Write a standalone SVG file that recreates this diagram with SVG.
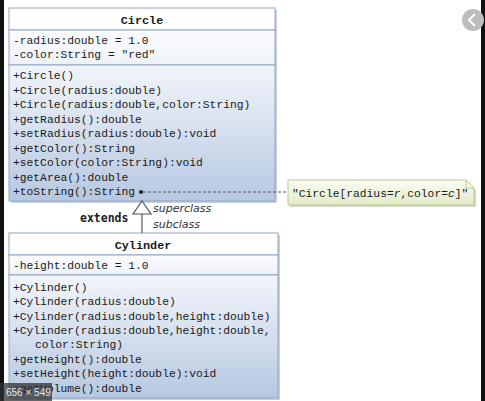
<svg xmlns="http://www.w3.org/2000/svg" width="485" height="401" viewBox="0 0 485 401">
<style>
.mono{font-family:"Liberation Mono","DejaVu Sans Mono",monospace;font-size:11.3px;fill:#1a1a1a}
.title{font-weight:bold;text-anchor:middle;font-size:11.8px}
.box{stroke:#8fa4c4;stroke-width:1}
.lbl{font-family:"DejaVu Sans","Liberation Sans",sans-serif;font-size:11px;fill:#333}
</style>
<defs>
<linearGradient id="meth" x1="0" y1="0" x2="0" y2="1">
<stop offset="0" stop-color="#f2f5fa"/>
<stop offset="1" stop-color="#b6c8e1"/>
</linearGradient>
<linearGradient id="attr" x1="0" y1="0" x2="0" y2="1">
<stop offset="0" stop-color="#fbfcfe"/>
<stop offset="1" stop-color="#eef2f8"/>
</linearGradient>
<linearGradient id="note" x1="0" y1="0" x2="0" y2="1">
<stop offset="0" stop-color="#fbfdf3"/>
<stop offset="1" stop-color="#e2ebc8"/>
</linearGradient>
</defs>
<rect width="485" height="401" fill="#ffffff"/>
<rect x="0" y="0" width="4" height="401" fill="#111"/>
<rect x="481" y="0" width="4" height="401" fill="#111"/>
<circle cx="473" cy="20" r="11" fill="#bdbdbd"/>
<path d="M475,14 L469,20 L475,26" fill="none" stroke="#fff" stroke-width="2"/>

<g id="circle">
<rect x="11" y="10" width="266" height="193" fill="#c9cfd8"/>
<rect x="9" y="8" width="266" height="22" fill="#ffffff" class="box"/>
<rect x="9" y="30" width="266" height="35" fill="url(#attr)" class="box"/>
<rect x="9" y="65" width="266" height="136" fill="url(#meth)" class="box"/>
<text x="142" y="24" class="mono title">Circle</text>
<text x="13" y="44" class="mono">-radius:double = 1.0</text>
<text x="13" y="58" class="mono">-color:String = "red"</text>
<text x="13" y="79" class="mono">+Circle()</text>
<text x="13" y="93.5" class="mono">+Circle(radius:double)</text>
<text x="13" y="108" class="mono">+Circle(radius:double,color:String)</text>
<text x="13" y="122.5" class="mono">+getRadius():double</text>
<text x="13" y="137" class="mono">+setRadius(radius:double):void</text>
<text x="13" y="151.5" class="mono">+getColor():String</text>
<text x="13" y="166" class="mono">+setColor(color:String):void</text>
<text x="13" y="180.5" class="mono">+getArea():double</text>
<text x="13" y="195" class="mono">+toString():String</text>
</g>

<g id="note1">
<path d="M290,182 L468,182 L476,190 L476,207 L290,207 Z" fill="#d5d9cc"/>
<path d="M288,180 L466,180 L474,188 L474,205 L288,205 Z" fill="url(#note)" stroke="#b8c98f" stroke-width="1"/>
<path d="M466,180 L466,188 L474,188" fill="none" stroke="#b8c98f" stroke-width="1"/>
<text x="292" y="197" class="mono">"Circle[radius=<tspan font-style="italic">r</tspan>,color=<tspan font-style="italic">c</tspan>]"</text>
</g>

<g id="cylinder">
<rect x="11" y="235" width="269" height="165" fill="#c9cfd8"/>
<rect x="9" y="233" width="269" height="22" fill="#ffffff" class="box"/>
<rect x="9" y="255" width="269" height="20" fill="url(#attr)" class="box"/>
<rect x="9" y="275" width="269" height="123" fill="url(#meth)" class="box"/>
<text x="143" y="249" class="mono title">Cylinder</text>
<text x="13" y="269" class="mono">-height:double = 1.0</text>
<text x="13" y="291" class="mono">+Cylinder()</text>
<text x="13" y="305" class="mono">+Cylinder(radius:double)</text>
<text x="13" y="319.5" class="mono">+Cylinder(radius:double,height:double)</text>
<text x="13" y="334" class="mono">+Cylinder(radius:double,height:double,</text>
<text x="35" y="348" class="mono">color:String)</text>
<text x="13" y="362.5" class="mono">+getHeight():double</text>
<text x="13" y="377" class="mono">+setHeight(height:double):void</text>
<text x="13" y="391.5" class="mono">+getVolume():double</text>
</g>

<g id="connectors">
<line x1="143" y1="192" x2="288" y2="192" stroke="#4a5568" stroke-width="1.2" stroke-dasharray="3,2"/>
<circle cx="141" cy="192" r="2" fill="#222"/>
<line x1="142" y1="214" x2="142" y2="233" stroke="#555" stroke-width="1.2"/>
<polygon points="142,201 133,214 151,214" fill="#fff" stroke="#555" stroke-width="1.2"/>
<text x="80" y="222" font-weight="bold" style="font-family:'DejaVu Sans Mono','Liberation Mono',monospace;font-size:11.5px;fill:#222">extends</text>
<text x="153" y="212" class="lbl" font-style="italic">superclass</text>
<text x="153" y="228" class="lbl" font-style="italic">subclass</text>
</g>

<rect x="0" y="383" width="52" height="18" fill="#333" fill-opacity="0.75"/>
<text x="6" y="396" style="font-family:'Liberation Sans',Arial,sans-serif;font-size:10px;fill:#e8e8e8">656 × 549</text>
</svg>
